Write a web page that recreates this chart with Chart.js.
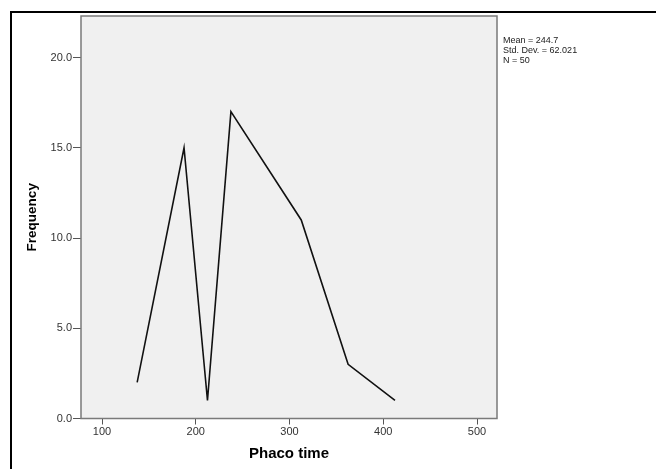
<!DOCTYPE html>
<html>
<head>
<meta charset="utf-8">
<script src="https://cdn.jsdelivr.net/npm/chart.js@4/dist/chart.umd.min.js"></script>
<style>
  html, body { margin: 0; padding: 0; background: #fff; }
  #wrap { position: relative; width: 656px; height: 469px; overflow: hidden; }
  #stats { position: absolute; left: 503px; top: 35px; font: 9px "Liberation Sans", Arial, sans-serif; line-height: 10px; color: #222; white-space: pre; }
</style>
</head>
<body>
<div id="wrap">
  <canvas id="c" width="656" height="469"></canvas>
  <div id="stats">Mean = 244.7
Std. Dev. = 62.021
N = 50</div>
</div>
<script>
const binMidpoints = [137.5, 187.5, 212.5, 237.5, 312.5, 362.5, 412.5];
const frequencies  = [2, 15, 1, 17, 11, 3, 1];
const xTickValues  = [100, 200, 300, 400, 500];
const yTickValues  = [0, 5, 10, 15, 20];
const xTitle = 'Phaco time';
const yTitle = 'Frequency';

const points = binMidpoints.map((x, i) => ({ x: x, y: frequencies[i] }));

const framePlugin = {
  id: 'frame',
  beforeDraw(chart) {
    const ctx = chart.ctx;
    const a = chart.chartArea;
    ctx.save();
    ctx.fillStyle = '#ffffff';
    ctx.fillRect(0, 0, chart.width, chart.height);
    ctx.strokeStyle = '#000000';
    ctx.lineWidth = 2;
    ctx.strokeRect(11, 12, 800, 600);
    ctx.fillStyle = '#f0f0f0';
    ctx.fillRect(a.left, a.top, a.right - a.left, a.bottom - a.top);
    ctx.restore();
  },
  afterDraw(chart) {
    const ctx = chart.ctx;
    const a = chart.chartArea;
    ctx.save();
    ctx.strokeStyle = '#7a7a7a';
    ctx.lineWidth = 1.5;
    ctx.strokeRect(a.left, a.top, a.right - a.left, a.bottom - a.top);
    ctx.restore();
  }
};

new Chart(document.getElementById('c'), {
  type: 'line',
  data: {
    datasets: [{
      data: points,
      borderColor: '#111111',
      borderWidth: 1.6,
      pointRadius: 0,
      tension: 0,
      fill: false
    }]
  },
  options: {
    responsive: false,
    animation: false,
    events: [],
    layout: { padding: { left: 0, top: 16, right: 159, bottom: 0 } },
    plugins: { legend: { display: false }, tooltip: { enabled: false } },
    scales: {
      x: {
        type: 'linear',
        min: 77.6,
        max: 521.3,
        afterBuildTicks: s => { s.ticks = xTickValues.map(v => ({ value: v })); },
        afterFit: s => { s.height = 50.5; },
        grid: { drawOnChartArea: false, drawTicks: true, tickLength: 6, color: '#555', lineWidth: 1 },
        border: { display: false },
        ticks: {
          padding: 1,
          color: '#333',
          font: { family: '"Liberation Sans", Arial, sans-serif', size: 11 },
          maxRotation: 0,
          callback: v => String(v)
        },
        title: {
          display: true,
          text: xTitle,
          color: '#000',
          font: { family: '"Liberation Sans", Arial, sans-serif', size: 15, weight: 'bold' },
          padding: { top: 0, bottom: 6 }
        }
      },
      y: {
        type: 'linear',
        min: 0,
        max: 22.3,
        afterBuildTicks: s => { s.ticks = yTickValues.map(v => ({ value: v })); },
        afterFit: s => { s.width = 81; },
        grid: { drawOnChartArea: false, drawTicks: true, tickLength: 8, color: '#555', lineWidth: 1 },
        border: { display: false },
        ticks: {
          padding: 1,
          color: '#333',
          font: { family: '"Liberation Sans", Arial, sans-serif', size: 11 },
          callback: v => Number(v).toFixed(1)
        },
        title: {
          display: true,
          text: yTitle,
          color: '#000',
          font: { family: '"Liberation Sans", Arial, sans-serif', size: 13.5, weight: 'bold' },
          padding: { top: 24, bottom: 0 }
        }
      }
    }
  },
  plugins: [framePlugin]
});
</script>
</body>
</html>
